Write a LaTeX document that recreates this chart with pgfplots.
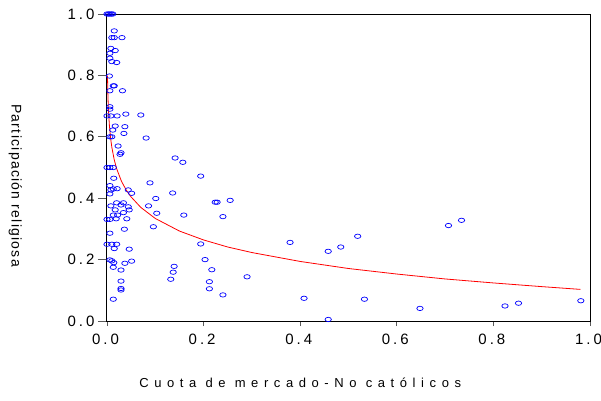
\documentclass[border=0pt]{standalone}
\usepackage{fontspec}
\setmainfont{Liberation Sans}
\newfontfamily\spaced[LetterSpace=20]{Liberation Sans}
\newfontfamily\wide[LetterSpace=43]{Liberation Sans}
\newfontfamily\slight[LetterSpace=9]{Liberation Sans}
\usepackage{pgfplots}
\pgfplotsset{compat=1.18}

% data: market share of non-catholics vs religious participation
\pgfplotstableread{
x y
0 1
0.003 1
0.006 1
0.009 1
0.012 1
0.015 0.945
0.010 0.923
0.015 0.923
0.031 0.923
0.008 0.888
0.017 0.881
0.006 0.872
0.006 0.856
0.010 0.845
0.020 0.842
0.005 0.798
0.013 0.766
0.015 0.766
0.006 0.750
0.032 0.750
0.006 0.698
0.006 0.690
0 0.668
0.008 0.668
0.021 0.668
0.039 0.674
0.070 0.671
0.017 0.635
0.037 0.633
0.012 0.622
0.035 0.611
0.081 0.596
0.006 0.600
0.010 0.600
0.023 0.570
0.029 0.548
0.027 0.543
0 0.5
0.006 0.5
0.013 0.5
0.014 0.465
0.089 0.450
0.006 0.441
0.008 0.427
0.013 0.430
0.021 0.431
0.044 0.427
0.006 0.414
0.051 0.416
0.101 0.399
0.008 0.375
0.020 0.385
0.034 0.385
0.029 0.378
0.044 0.372
0.017 0.362
0.046 0.362
0.034 0.353
0.013 0.345
0.022 0.345
0 0.331
0.006 0.331
0.019 0.333
0.041 0.333
0.086 0.375
0.103 0.351
0.096 0.307
0.006 0.286
0.036 0.299
0 0.250
0.010 0.250
0.020 0.250
0.015 0.236
0.046 0.234
0.006 0.199
0.010 0.196
0.014 0.190
0.037 0.188
0.051 0.195
0.013 0.175
0.029 0.166
0.029 0.130
0.029 0.106
0.029 0.101
0.013 0.071
0.141 0.531
0.157 0.517
0.194 0.472
0.136 0.417
0.159 0.345
0.224 0.387
0.228 0.387
0.255 0.393
0.240 0.340
0.194 0.251
0.379 0.256
0.203 0.200
0.139 0.178
0.137 0.159
0.132 0.136
0.217 0.167
0.212 0.128
0.212 0.105
0.290 0.144
0.240 0.085
0.458 0.227
0.484 0.241
0.519 0.276
0.707 0.311
0.734 0.328
0.408 0.074
0.458 0.005
0.533 0.071
0.648 0.041
0.824 0.049
0.852 0.058
0.981 0.066
}\points

% fitted curve
\pgfplotstableread{
x y
0.001 0.799
0.002 0.729
0.003 0.688
0.005 0.636
0.0075 0.595
0.01 0.566
0.015 0.525
0.02 0.496
0.03 0.455
0.04 0.426
0.05 0.404
0.07 0.370
0.1 0.334
0.15 0.293
0.2 0.264
0.25 0.241
0.3 0.223
0.4 0.194
0.5 0.171
0.6 0.153
0.7 0.137
0.8 0.124
0.9 0.112
0.98 0.103
}\fit

\begin{document}
\begin{tikzpicture}
\useasboundingbox (-107pt,-79pt) rectangle (494pt,321pt);
\begin{axis}[
	at={(0,0)}, anchor=south west,
	scale only axis,
	width=483pt, height=307pt,
	xmin=0, xmax=1, ymin=0, ymax=1,
	clip=false,
	axis line style={black, line width=1pt},
	xtick={0,0.2,0.4,0.6,0.8,1},
	minor xtick={0,0.2,0.4,0.6,0.8,1},
	ytick={0,0.2,0.4,0.6,0.8,1},
	xticklabels={0.0,0.2,0.4,0.6,0.8,1.0},
	yticklabels={0.0,0.2,0.4,0.6,0.8,1.0},
	xtick pos=bottom, ytick pos=left,
	tick align=outside,
	major tick length=9pt,
	minor tick length=5pt,
	major x tick style={draw=none},
	tick style={black!65, line width=0.8pt},
	ticklabel style={font=\spaced\fontsize{15}{17}\selectfont},
	xticklabel style={xshift=-1.5pt},
	xlabel={Cuota de mercado-No católicos},
	ylabel={Participación religiosa},
	xlabel style={font=\wide\fontsize{13}{15}\selectfont,
		at={(axis description cs:0.40,-0.202)}, anchor=center},
	ylabel style={font=\slight\fontsize{14}{16}\selectfont, rotate=180,
		at={(axis description cs:-0.19,0.441)}, anchor=center},
]
\addplot[only marks, mark=o, mark size=2.2pt,
	mark options={blue, line width=0.7pt, xscale=1.45}] table {\points};
\addplot[red, line width=0.8pt, no marks] table {\fit};
\end{axis}
\end{tikzpicture}
\end{document}
